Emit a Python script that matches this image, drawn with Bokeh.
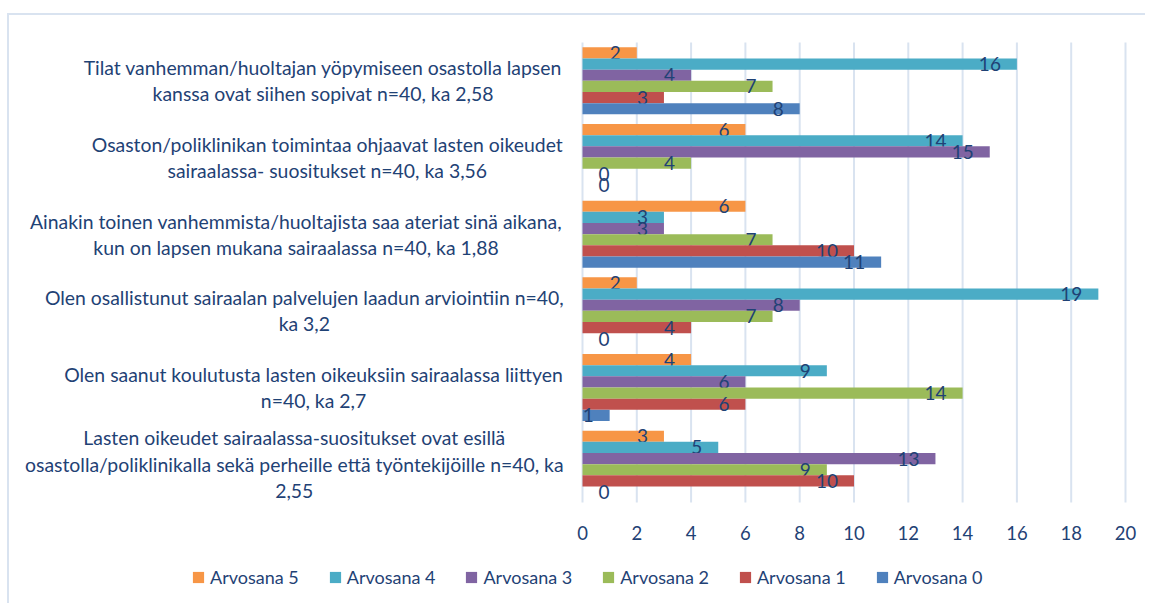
from bokeh.plotting import figure
from bokeh.models import Range1d, FixedTicker, Legend, LegendItem, ColumnDataSource
from bokeh.core.properties import value
from bokeh.embed import file_html
from bokeh.resources import INLINE

# ---------------- data ----------------
categories = [
    "Tilat vanhemman/huoltajan yöpymiseen osastolla lapsen\nkanssa ovat siihen sopivat n=40, ka 2,58",
    "Osaston/poliklinikan toimintaa ohjaavat lasten oikeudet\nsairaalassa- suositukset n=40, ka 3,56",
    "Ainakin toinen vanhemmista/huoltajista saa ateriat sinä aikana,\nkun on lapsen mukana sairaalassa n=40, ka 1,88",
    "Olen osallistunut sairaalan palvelujen laadun arviointiin n=40,\nka 3,2",
    "Olen saanut koulutusta lasten oikeuksiin sairaalassa liittyen\nn=40, ka 2,7",
    "Lasten oikeudet sairaalassa-suositukset ovat esillä\nosastolla/poliklinikalla sekä perheille että työntekijöille n=40, ka\n2,55",
]
series_names = ["Arvosana 5", "Arvosana 4", "Arvosana 3", "Arvosana 2", "Arvosana 1", "Arvosana 0"]
arvosana_5 = [2, 6, 6, 2, 4, 3]
arvosana_4 = [16, 14, 3, 19, 9, 5]
arvosana_3 = [4, 15, 3, 8, 6, 13]
arvosana_2 = [7, 4, 7, 7, 14, 9]
arvosana_1 = [3, 0, 10, 4, 6, 10]
arvosana_0 = [8, 0, 11, 0, 1, 0]
x_ticks = [0, 2, 4, 6, 8, 10, 12, 14, 16, 18, 20]

# ---------------- style / layout ----------------
series_values = [arvosana_5, arvosana_4, arvosana_3, arvosana_2, arvosana_1, arvosana_0]
colors = ["#F79646", "#4BACC6", "#8064A2", "#9BBB59", "#C0504D", "#4F81BD"]
TEXT = "#1F4275"
BORDER = "#D9E3F0"
FONT = "Lato"
label_centers_px = [323.5, 327.8, 296.5, 304.8, 314.0, 294.8]   # page x of label block centres
ZERO_PX = 583.0       # page x of value 0
PX_PER_UNIT = 27.15
CANVAS_LEFT, CANVAS_TOP = 10.0, 16.0   # page position of canvas (after css margin + border)
PLOT_TOP_PX, PLOT_BOTTOM_PX = 43.0, 503.0
W, H = 1138, 590
BAR_H = 0.1457

n = len(categories)
px_per_y = (PLOT_BOTTOM_PX - PLOT_TOP_PX) / n
x0 = (CANVAS_LEFT - ZERO_PX) / PX_PER_UNIT
x1 = (CANVAS_LEFT + W - ZERO_PX) / PX_PER_UNIT
y1 = n + (PLOT_TOP_PX - CANVAS_TOP) / px_per_y
y0 = -(CANVAS_TOP + H - PLOT_BOTTOM_PX) / px_per_y

p = figure(width=W, height=H, output_backend="svg", toolbar_location=None,
           x_range=Range1d(x0, x1), y_range=Range1d(y0, y1),
           min_border_left=0, min_border_right=0, min_border_top=0, min_border_bottom=0)
p.styles = {"margin-left": "7px", "margin-top": "13px",
            "border-top": "2px solid " + BORDER, "border-left": "2px solid " + BORDER}
p.outline_line_color = None
p.background_fill_color = "white"
p.border_fill_color = "white"

p.yaxis.visible = False
p.ygrid.visible = False
p.xgrid.visible = False
# vertical grid lines, only over the plotting area
p.segment(x0=x_ticks, y0=[0] * len(x_ticks), x1=x_ticks, y1=[n] * len(x_ticks),
          line_color=BORDER, line_width=2)

p.xaxis.fixed_location = 0
p.xaxis.ticker = FixedTicker(ticks=x_ticks)
p.xaxis.axis_line_color = None
p.xaxis.major_tick_line_color = None
p.xaxis.minor_tick_line_color = None
p.xaxis.major_tick_out = 0
p.xaxis.major_tick_in = 0
p.xaxis.major_label_standoff = 23
p.xaxis.major_label_text_font = FONT
p.xaxis.major_label_text_font_size = "18.5px"
p.xaxis.major_label_text_color = TEXT

renderers = []
for j, (name, vals, col) in enumerate(zip(series_names, series_values, colors)):
    ys = [n - k - 0.5 + (2.5 - j) * BAR_H for k in range(n)]
    src = ColumnDataSource(dict(y=ys, right=vals))
    r = p.hbar(y="y", left=0, right="right", height=BAR_H, source=src,
               fill_color=col, line_color=None)
    renderers.append(r)
    nz = [i for i, v in enumerate(vals) if v != 0]
    z = [i for i, v in enumerate(vals) if v == 0]
    if nz:
        s1 = ColumnDataSource(dict(x=[vals[i] for i in nz], y=[ys[i] for i in nz],
                                   t=[str(vals[i]) for i in nz]))
        p.text(x="x", y="y", text="t", source=s1, text_align="right", text_baseline="middle",
               x_offset=-16, text_font=value(FONT), text_font_size="19px", text_color=TEXT)
    if z:
        s2 = ColumnDataSource(dict(x=[vals[i] for i in z], y=[ys[i] for i in z],
                                   t=[str(vals[i]) for i in z]))
        p.text(x="x", y="y", text="t", source=s2, text_align="left", text_baseline="middle",
               x_offset=16, text_font=value(FONT), text_font_size="19px", text_color=TEXT)

cat_src = ColumnDataSource(dict(
    x=[(c - ZERO_PX) / PX_PER_UNIT for c in label_centers_px],
    y=[n - k - 0.5 for k in range(n)],
    t=categories))
p.text(x="x", y="y", text="t", source=cat_src, text_align="center", text_baseline="middle",
       text_font=value(FONT), text_font_size="19.4px", text_color=TEXT, text_line_height=1.14)

legend = Legend(items=[LegendItem(label=nm, renderers=[r]) for nm, r in zip(series_names, renderers)],
                orientation="horizontal", location=(182, 17),
                glyph_width=14, glyph_height=14, label_standoff=5, spacing=29,
                padding=0, margin=0, border_line_color=None, background_fill_alpha=0,
                label_text_font=FONT, label_text_font_size="18px", label_text_color=TEXT)
p.add_layout(legend, "center")

open("out.html", "w").write(file_html(p, INLINE))
